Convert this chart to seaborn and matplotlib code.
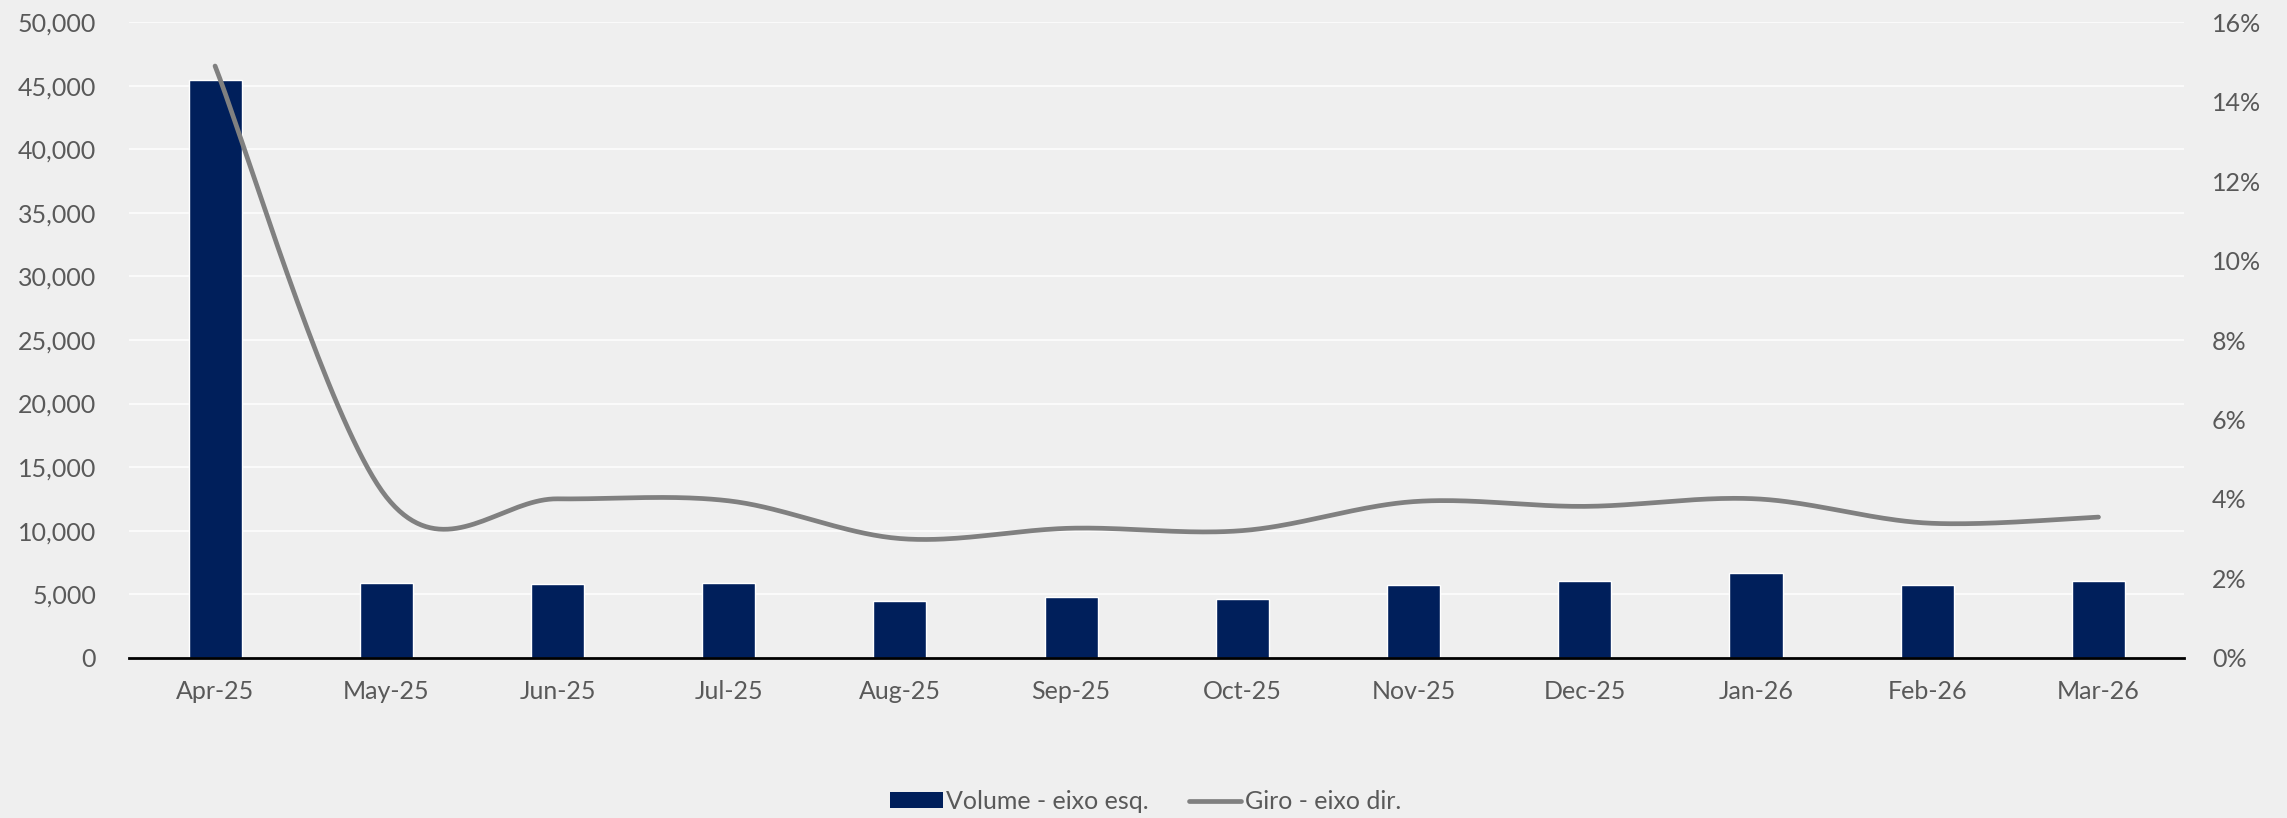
import numpy as np
import pandas as pd
import matplotlib
matplotlib.use("Agg")
import matplotlib.pyplot as plt
import matplotlib.ticker as mticker
from matplotlib.patches import Patch
from matplotlib.lines import Line2D
import seaborn as sns

# dados
meses = ["Apr-25", "May-25", "Jun-25", "Jul-25", "Aug-25", "Sep-25",
         "Oct-25", "Nov-25", "Dec-25", "Jan-26", "Feb-26", "Mar-26"]
volume = [45500, 5900, 5800, 5900, 4450, 4800, 4650, 5700, 6000, 6650, 5750, 6000]
giro = [0.149, 0.0405, 0.040, 0.0395, 0.030, 0.0326, 0.032, 0.0393, 0.0381, 0.040, 0.0339, 0.0354]

NAVY = "#001F5B"
GREY_LINE = "#808080"
TXT = "#595959"
BG = "#EFEFEF"


def suavizar(y, n=40):
    # curva suavizada estilo Excel (Catmull-Rom) passando pelos pontos
    y = np.asarray(y, dtype=float)
    x = np.arange(len(y), dtype=float)
    P = np.column_stack([x, y])
    P = np.vstack([P[0], P, P[-1]])
    out = []
    for i in range(1, len(P) - 2):
        p0, p1, p2, p3 = P[i - 1], P[i], P[i + 1], P[i + 2]
        c1 = p1 + (p2 - p0) / 6.0
        c2 = p2 - (p3 - p1) / 6.0
        t = np.linspace(0, 1, n)[:, None]
        seg = ((1 - t) ** 3) * p1 + 3 * ((1 - t) ** 2) * t * c1 + 3 * (1 - t) * t ** 2 * c2 + t ** 3 * p2
        out.append(seg if i == 1 else seg[1:])
    out = np.vstack(out)
    return out[:, 0], out[:, 1]


sns.set_theme(style="white")
plt.rcParams["font.family"] = ["Lato", "DejaVu Sans"]

fig = plt.figure(figsize=(22.87, 8.18), dpi=100)
fig.patch.set_facecolor(BG)
ax = fig.add_axes([0.0566, 0.196, 0.8984, 0.7767])
ax.set_facecolor("none")

df = pd.DataFrame({"mes": meses, "volume": volume, "giro": giro})
sns.barplot(data=df, x="mes", y="volume", color=NAVY, width=0.31,
            saturation=1, ax=ax, zorder=3)

ax.set_xlim(-0.5, 11.5)
ax.set_ylim(0, 50000)
ax.yaxis.set_major_locator(mticker.MultipleLocator(5000))
ax.yaxis.set_major_formatter(mticker.FuncFormatter(lambda v, p: f"{int(v):,}"))
ax.grid(axis="y", color="#FAFAFA", linewidth=1.5, zorder=0)
ax.set_axisbelow(True)
for s in ["top", "right", "left"]:
    ax.spines[s].set_visible(False)
ax.spines["bottom"].set_color("black")
ax.spines["bottom"].set_linewidth(2)
ax.spines["bottom"].set_zorder(5)
ax.tick_params(axis="both", length=0, labelsize=18, colors=TXT)
ax.tick_params(axis="y", pad=24)
ax.tick_params(axis="x", pad=16)
ax.set_xlabel("")
ax.set_ylabel("")

ax2 = ax.twinx()
xs, ys = suavizar(giro)
sns.lineplot(x=xs, y=ys, sort=False, color=GREY_LINE, linewidth=3.4, ax=ax2, zorder=4)
ax2.set_ylim(0, 0.16)
ax2.yaxis.set_major_locator(mticker.MultipleLocator(0.02))
ax2.yaxis.set_major_formatter(mticker.PercentFormatter(1.0, decimals=0))
ax2.tick_params(axis="y", length=0, labelsize=18, colors=TXT, pad=20)
for s in ["top", "right", "left", "bottom"]:
    ax2.spines[s].set_visible(False)
ax2.grid(False)
ax2.set_ylabel("")

handles = [Patch(facecolor=NAVY, edgecolor="none"),
           Line2D([0], [0], color=GREY_LINE, linewidth=3.4)]
fig.legend(handles, ["Volume - eixo esq.", "Giro - eixo dir."],
           loc="center", bbox_to_anchor=(0.501, 0.02), ncol=2, frameon=False,
           fontsize=18, labelcolor=TXT, handlelength=2.1, handleheight=0.6,
           handletextpad=0.15, columnspacing=1.6)

fig.savefig("out.png", dpi=100, facecolor=BG)
